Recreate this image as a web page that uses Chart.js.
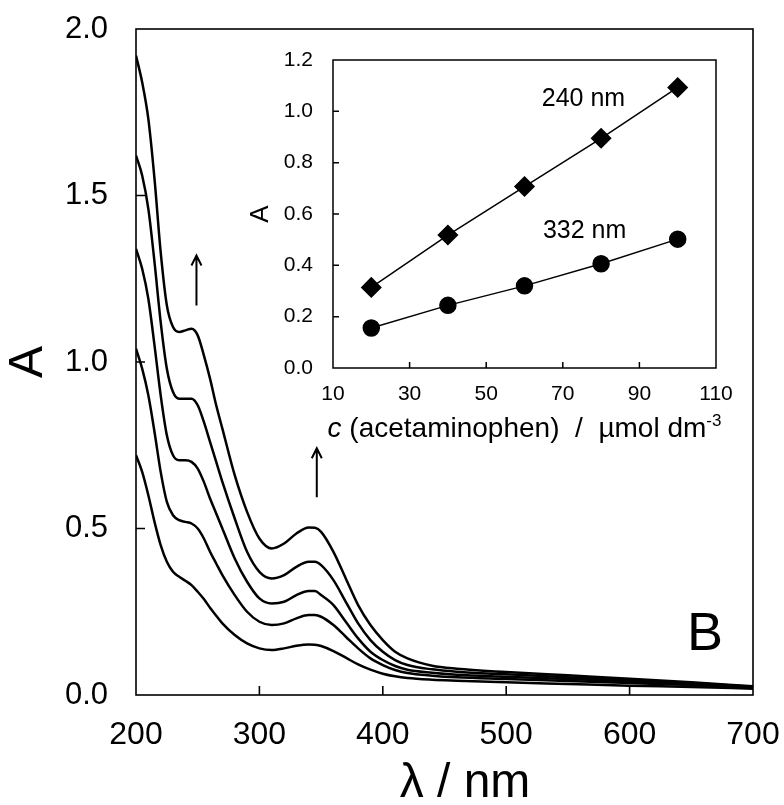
<!DOCTYPE html>
<html lang="en">
<head>
  <meta charset="UTF-8">
  <title>UV-Vis spectra of acetaminophen</title>
  <script src="https://cdn.jsdelivr.net/npm/chart.js"></script>
  <style>
    body { margin: 0; background: #fff; }
    #wrap { position: relative; width: 784px; height: 805px; }
    canvas { position: absolute; left: 0; top: 0; }
  </style>
</head>
<body>
  <div id="wrap">
    <canvas id="main" width="784" height="805"></canvas>
    <canvas id="inset" width="784" height="805"></canvas>
  </div>

  <script>
    // main spectra: wavelength (nm) and absorbance of the five solutions
    const wavelengths = [200,205,210,215,220,225,230,235,240,245,250,255,260,265,270,280,290,300,310,320,330,340,345,350,360,370,380,390,400,410,420,440,460,500,550,600,650,700];
    const abs100 = [1.92,1.84,1.73,1.55,1.33,1.17,1.105,1.09,1.095,1.10,1.08,1.02,0.95,0.87,0.80,0.66,0.55,0.47,0.44,0.455,0.485,0.503,0.502,0.49,0.43,0.35,0.27,0.21,0.165,0.13,0.11,0.088,0.079,0.069,0.059,0.049,0.038,0.026];
    const abs80  = [1.62,1.56,1.46,1.30,1.12,0.98,0.91,0.89,0.89,0.89,0.87,0.82,0.76,0.70,0.64,0.53,0.43,0.37,0.35,0.36,0.385,0.40,0.40,0.39,0.345,0.28,0.215,0.165,0.13,0.105,0.09,0.077,0.07,0.062,0.053,0.045,0.036,0.025];
    const abs60  = [1.34,1.28,1.19,1.05,0.90,0.78,0.72,0.705,0.705,0.70,0.68,0.64,0.59,0.545,0.50,0.41,0.34,0.29,0.275,0.28,0.30,0.312,0.312,0.30,0.27,0.22,0.17,0.13,0.105,0.087,0.076,0.067,0.061,0.055,0.048,0.041,0.033,0.024];
    const abs40  = [1.04,0.98,0.90,0.79,0.67,0.58,0.54,0.525,0.52,0.515,0.50,0.47,0.43,0.395,0.36,0.30,0.25,0.22,0.21,0.215,0.23,0.24,0.24,0.235,0.21,0.175,0.14,0.11,0.09,0.075,0.066,0.058,0.053,0.048,0.042,0.036,0.03,0.022];
    const abs20  = [0.72,0.67,0.60,0.52,0.45,0.40,0.37,0.355,0.343,0.33,0.31,0.288,0.262,0.238,0.215,0.18,0.155,0.14,0.135,0.14,0.148,0.152,0.151,0.147,0.132,0.112,0.092,0.076,0.064,0.056,0.051,0.046,0.043,0.038,0.033,0.028,0.024,0.019];

    // inset: calibration
    const conc = [20, 40, 60, 80, 100];
    const abs240 = [0.314, 0.518, 0.707, 0.895, 1.093];
    const abs332 = [0.156, 0.244, 0.32, 0.406, 0.502];

    // arrows (lambda, from A, to A) and labels
    const arrows = [[249, 1.17, 1.32], [346.5, 0.594, 0.741]];
    const panelLabel = { text: 'B', x: 646.5, y: 0.135 };
    const mainXTitle = { text: 'λ / nm', x: 465, baselineBelow: 102 };
    const insetLabels = [{ text: '240 nm', x: 64.5, y: 1.021 }, { text: '332 nm', x: 64.8, y: 0.506 }];

    const FONT = "'Liberation Sans', Arial, sans-serif";

    function pts(xs, ys) { return xs.map((x, i) => ({ x: x, y: ys[i] })); }
    function noPad(s) { s.paddingLeft = 0; s.paddingRight = 0; s.paddingTop = 0; s.paddingBottom = 0; }

    // full box + inward tick marks
    const frame = {
      id: 'frame',
      afterDraw(chart, args, opts) {
        const { ctx, chartArea: a } = chart;
        ctx.save();
        ctx.strokeStyle = '#000';
        ctx.lineWidth = opts.lw;
        ctx.strokeRect(a.left, a.top, a.right - a.left, a.bottom - a.top);
        const xs = chart.scales.x, ys = chart.scales.y;
        ctx.beginPath();
        xs.ticks.forEach(t => {
          if (t.value <= xs.min || t.value >= xs.max) return;
          const px = xs.getPixelForValue(t.value);
          ctx.moveTo(px, a.bottom); ctx.lineTo(px, a.bottom - opts.len);
        });
        ys.ticks.forEach(t => {
          if (t.value <= ys.min || t.value >= ys.max) return;
          const py = ys.getPixelForValue(t.value);
          ctx.moveTo(a.left, py); ctx.lineTo(a.left + opts.len, py);
        });
        ctx.stroke();
        ctx.restore();
      }
    };

    const mainExtras = {
      id: 'mainExtras',
      afterDatasetsDraw(chart) {
        const { ctx, chartArea: a } = chart;
        const xs = chart.scales.x, ys = chart.scales.y;
        ctx.save();
        ctx.strokeStyle = '#000';
        ctx.lineWidth = 2;
        arrows.forEach(([l, a0, a1]) => {
          const x = xs.getPixelForValue(l);
          const y0 = ys.getPixelForValue(a0), y1 = ys.getPixelForValue(a1);
          ctx.beginPath();
          ctx.moveTo(x, y0); ctx.lineTo(x, y1);
          ctx.moveTo(x - 5, y1 + 10); ctx.lineTo(x, y1); ctx.lineTo(x + 5, y1 + 10);
          ctx.stroke();
        });
        ctx.fillStyle = '#000';
        ctx.textBaseline = 'alphabetic';
        ctx.font = '54px ' + FONT;
        ctx.fillText(panelLabel.text, xs.getPixelForValue(panelLabel.x), ys.getPixelForValue(panelLabel.y));
        ctx.font = '48px ' + FONT;
        ctx.textAlign = 'center';
        ctx.fillText(mainXTitle.text, mainXTitle.x, a.bottom + mainXTitle.baselineBelow);
        ctx.restore();
      }
    };

    const insetExtras = {
      id: 'insetExtras',
      afterDatasetsDraw(chart) {
        const { ctx, chartArea: a } = chart;
        const xs = chart.scales.x, ys = chart.scales.y;
        ctx.save();
        ctx.fillStyle = '#000';
        ctx.textBaseline = 'alphabetic';
        ctx.font = '25px ' + FONT;
        insetLabels.forEach(l => ctx.fillText(l.text, xs.getPixelForValue(l.x), ys.getPixelForValue(l.y)));

        // x title: c (acetaminophen) / µmol dm-3
        const parts = [
          { t: 'c', f: 'italic 28px ' + FONT, dy: 0 },
          { t: ' (acetaminophen)  /  µmol dm', f: '28px ' + FONT, dy: 0 },
          { t: '-3', f: '17px ' + FONT, dy: -11 }
        ];
        let w = 0;
        parts.forEach(p => { ctx.font = p.f; p.w = ctx.measureText(p.t).width; w += p.w; });
        let x = (a.left + a.right) / 2 - w / 2;
        const base = a.bottom + 69;
        parts.forEach(p => { ctx.font = p.f; ctx.fillText(p.t, x, base + p.dy); x += p.w; });
        ctx.restore();
      }
    };

    const black = '#000';
    const mainSets = [abs100, abs80, abs60, abs40, abs20].map(arr => ({
      data: pts(wavelengths, arr),
      borderColor: black,
      borderWidth: 2.5,
      pointRadius: 0,
      fill: false,
      cubicInterpolationMode: 'monotone'
    }));

    new Chart(document.getElementById('main'), {
      type: 'line',
      data: { datasets: mainSets },
      options: {
        responsive: false,
        animation: false,
        devicePixelRatio: 1,
        layout: { padding: { left: 0, top: 29, right: 31, bottom: 0 } },
        plugins: { legend: { display: false }, tooltip: { enabled: false }, frame: { lw: 1.6, len: 9 } },
        scales: {
          x: {
            type: 'linear', min: 200, max: 700,
            afterFit(s) { s.height = 110; noPad(s); },
            grid: { display: false, drawTicks: false },
            border: { display: false },
            ticks: { stepSize: 100, padding: 21, color: black, font: { family: FONT, size: 32 } },
            title: { display: false }
          },
          y: {
            min: 0, max: 2,
            afterFit(s) { s.width = 136; noPad(s); },
            grid: { display: false, drawTicks: false },
            border: { display: false },
            ticks: { stepSize: 0.5, padding: 28, color: black, font: { family: FONT, size: 31 }, callback: v => v.toFixed(1) },
            title: { display: true, text: 'A', color: black, font: { family: FONT, size: 48 }, padding: { top: 0, bottom: 0 } }
          }
        }
      },
      plugins: [frame, mainExtras]
    });

    new Chart(document.getElementById('inset'), {
      type: 'line',
      data: {
        datasets: [
          { data: pts(conc, abs240), borderColor: black, borderWidth: 1.5, pointStyle: 'rectRot', pointRadius: 9.5, pointBackgroundColor: black, pointBorderColor: black, fill: false },
          { data: pts(conc, abs332), borderColor: black, borderWidth: 1.5, pointStyle: 'circle', pointRadius: 8, pointBackgroundColor: black, pointBorderColor: black, fill: false }
        ]
      },
      options: {
        responsive: false,
        animation: false,
        devicePixelRatio: 1,
        layout: { padding: { left: 0, top: 60, right: 68, bottom: 0 } },
        plugins: { legend: { display: false }, tooltip: { enabled: false }, frame: { lw: 1.5, len: 6 } },
        scales: {
          x: {
            type: 'linear', min: 10, max: 110,
            afterFit(s) { s.height = 437; noPad(s); },
            grid: { display: false, drawTicks: false },
            border: { display: false },
            ticks: { stepSize: 20, padding: 14, color: black, font: { family: FONT, size: 21 } },
            title: { display: false }
          },
          y: {
            min: 0, max: 1.2,
            afterFit(s) { s.width = 333; noPad(s); },
            grid: { display: false, drawTicks: false },
            border: { display: false },
            ticks: { stepSize: 0.2, padding: 20, color: black, font: { family: FONT, size: 21 }, callback: v => v.toFixed(1) },
            title: { display: true, text: 'A', color: black, font: { family: FONT, size: 26 }, padding: { top: 245, bottom: 0 } }
          }
        }
      },
      plugins: [frame, insetExtras]
    });
  </script>
</body>
</html>
